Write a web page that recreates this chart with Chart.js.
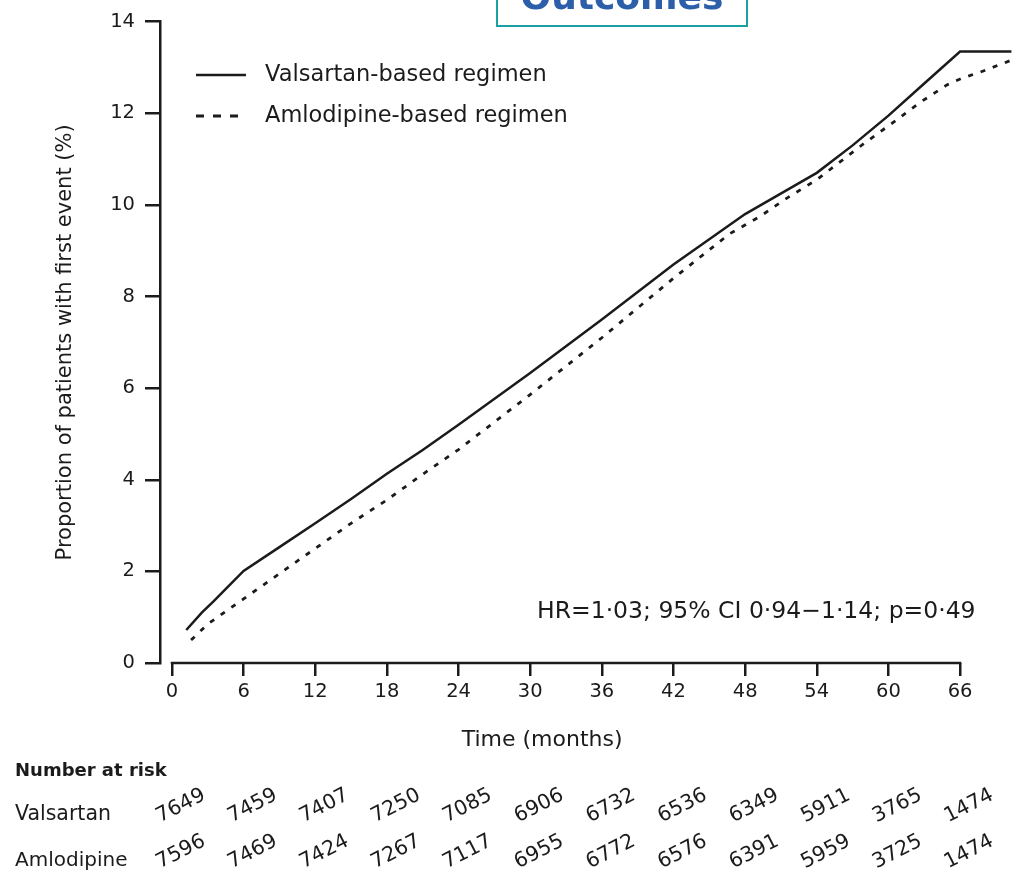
<!DOCTYPE html>
<html>
<head>
<meta charset="utf-8">
<title>Outcomes</title>
<script src="https://cdn.jsdelivr.net/npm/chart.js@4.4.1/dist/chart.umd.min.js"></script>
<style>
  html, body { margin: 0; padding: 0; background: #fff; }
  #wrap { width: 1015px; height: 872px; overflow: hidden; }
</style>
</head>
<body>
<div id="wrap"><canvas id="kmChart" width="1015" height="872"></canvas></div>
<script>
// ---- data ----
const timeTicks = [0, 6, 12, 18, 24, 30, 36, 42, 48, 54, 60, 66];

const valsartanTime = [1.2, 2.5, 3.5, 6, 9, 12, 15, 18, 21, 24, 30, 36, 42, 48, 52, 54, 57, 60, 63, 66, 70.3];
const valsartanPct  = [0.72, 1.1, 1.35, 2.01, 2.53, 3.05, 3.58, 4.13, 4.65, 5.2, 6.33, 7.5, 8.7, 9.8, 10.4, 10.7, 11.3, 11.95, 12.65, 13.35, 13.35];

const amlodipineTime = [1.6, 3, 6, 9, 12, 15, 18, 21, 24, 30, 36, 42, 46.7, 49.2, 51.5, 54, 56, 58, 60.4, 62.6, 64.9, 66.2, 67.7, 70.3];
const amlodipinePct  = [0.5, 0.85, 1.4, 1.95, 2.5, 3.05, 3.56, 4.12, 4.66, 5.86, 7.1, 8.4, 9.37, 9.74, 10.15, 10.55, 10.95, 11.35, 11.8, 12.23, 12.62, 12.77, 12.9, 13.16];

const valsartanRisk  = [7649, 7459, 7407, 7250, 7085, 6906, 6732, 6536, 6349, 5911, 3765, 1474];
const amlodipineRisk = [7596, 7469, 7424, 7267, 7117, 6955, 6772, 6576, 6391, 5959, 3725, 1474];

const seriesNames = ["Valsartan-based regimen", "Amlodipine-based regimen"];
const riskLabels = ["Valsartan", "Amlodipine"];
const statText = "HR=1\u00b703; 95% CI 0\u00b794\u22121\u00b714; p=0\u00b749";

const INK = "#1b1b1b";
const FONT = "DejaVu Sans";

Chart.defaults.font.family = FONT;
Chart.defaults.color = INK;

const toPoints = (xs, ys) => xs.map((t, i) => ({ x: t, y: ys[i] }));

/* extra drawing: axis line, legend, annotation, number at risk, banner */
const extras = {
  id: "extras",
  afterDraw(chart) {
    const { ctx, scales: { x, y } } = chart;
    ctx.save();

    // x axis line only between 0 and 66
    ctx.strokeStyle = INK;
    ctx.lineWidth = 2.5;
    ctx.beginPath();
    ctx.moveTo(x.getPixelForValue(timeTicks[0]) - 1.2, y.bottom);
    ctx.lineTo(x.getPixelForValue(timeTicks[timeTicks.length - 1]) + 1.2, y.bottom);
    ctx.stroke();

    // x title
    ctx.fillStyle = INK;
    ctx.font = "22px " + FONT;
    ctx.textAlign = "center";
    ctx.textBaseline = "middle";
    ctx.fillText("Time (months)", x.getPixelForValue(31), 740);

    // legend
    chart.data.datasets.forEach((ds, i) => {
      const ly = 75 + i * 41;
      ctx.strokeStyle = ds.borderColor;
      ctx.lineWidth = ds.borderWidth;
      ctx.setLineDash(i ? [8, 9] : []);
      ctx.beginPath();
      ctx.moveTo(196, ly);
      ctx.lineTo(246, ly);
      ctx.stroke();
      ctx.setLineDash([]);
      ctx.font = "22.5px " + FONT;
      ctx.textAlign = "left";
      ctx.fillText(ds.label, 265, ly);
    });

    // annotation
    ctx.font = "23.5px " + FONT;
    ctx.textAlign = "left";
    ctx.fillText(statText, 537, 612);

    // number at risk
    ctx.font = "bold 18px " + FONT;
    ctx.fillText("Number at risk", 15, 771);
    [valsartanRisk, amlodipineRisk].forEach((row, r) => {
      const ry = 806 + r * 46;
      ctx.font = (r ? "20px " : "20.5px ") + FONT;
      ctx.textAlign = "left";
      ctx.fillText(riskLabels[r], 15, ry + 9);
      ctx.font = "20.5px " + FONT;
      ctx.textAlign = "center";
      row.forEach((n, k) => {
        ctx.save();
        ctx.translate(x.getPixelForValue(timeTicks[k]) + 9, ry);
        ctx.rotate(-27 * Math.PI / 180);
        ctx.fillText(String(n), 0, 0);
        ctx.restore();
      });
    });

    // cut-off "Outcomes" banner at the top
    ctx.strokeStyle = "#1aa0a0";
    ctx.lineWidth = 2;
    ctx.strokeRect(497, -10, 250, 36);
    ctx.fillStyle = "#2d5ea9";
    ctx.font = "bold 36px " + FONT;
    ctx.textAlign = "center";
    ctx.textBaseline = "alphabetic";
    ctx.fillText("Outcomes", 622, 9);

    ctx.restore();
  }
};

new Chart(document.getElementById("kmChart"), {
  type: "line",
  data: {
    datasets: [
      {
        label: seriesNames[0],
        data: toPoints(valsartanTime, valsartanPct),
        borderColor: INK,
        borderWidth: 2.5,
        pointRadius: 0,
        tension: 0
      },
      {
        label: seriesNames[1],
        data: toPoints(amlodipineTime, amlodipinePct),
        borderColor: INK,
        borderWidth: 2.8,
        borderDash: [5, 8],
        pointRadius: 0,
        tension: 0
      }
    ]
  },
  options: {
    responsive: false,
    animation: false,
    events: [],
    layout: { padding: { top: 16, left: 0, right: 0, bottom: 0 } },
    plugins: {
      legend: { display: false },
      tooltip: { enabled: false }
    },
    scales: {
      x: {
        type: "linear",
        min: -1,
        max: 70.6,
        afterBuildTicks: s => { s.ticks = timeTicks.map(v => ({ value: v })); },
        afterFit: s => { s.height = 209; },
        border: { display: false },
        grid: { drawOnChartArea: false, drawTicks: true, tickLength: 13, color: INK, lineWidth: 2.5 },
        ticks: { font: { size: 19.5 }, color: INK, padding: 4, maxRotation: 0, autoSkip: false }
      },
      y: {
        min: 0,
        max: 14,
        afterFit: s => { s.width = 160; },
        border: { display: true, color: INK, width: 2.5 },
        grid: { drawOnChartArea: false, drawTicks: true, tickLength: 15, color: INK, lineWidth: 2.5 },
        ticks: { stepSize: 2, font: { size: 19.5 }, color: INK, padding: 10 },
        title: {
          display: true,
          text: "Proportion of patients with first event (%)",
          font: { size: 21 },
          color: INK,
          padding: { top: 53, bottom: 0 }
        }
      }
    }
  },
  plugins: [extras]
});
</script>
</body>
</html>
